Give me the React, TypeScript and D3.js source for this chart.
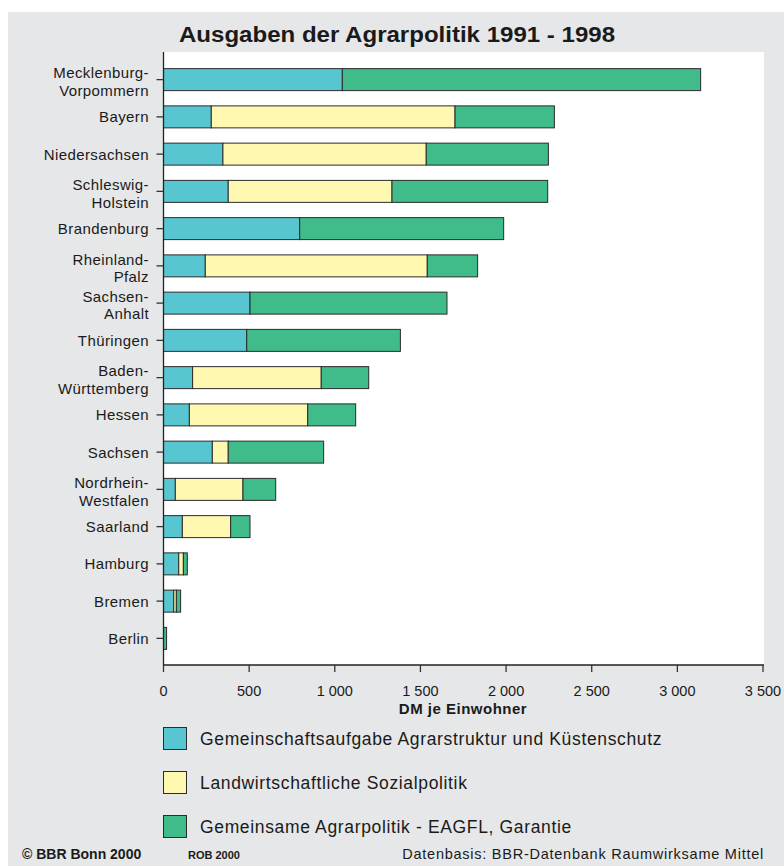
import React from "react";
import * as d3 from "d3";

const states = [
  "Mecklenburg-\nVorpommern",
  "Bayern",
  "Niedersachsen",
  "Schleswig-\nHolstein",
  "Brandenburg",
  "Rheinland-\nPfalz",
  "Sachsen-\nAnhalt",
  "Thüringen",
  "Baden-\nWürttemberg",
  "Hessen",
  "Sachsen",
  "Nordrhein-\nWestfalen",
  "Saarland",
  "Hamburg",
  "Bremen",
  "Berlin",
];
const gemeinschaft = [1044, 279, 347, 378, 795, 244, 505, 486, 170, 151, 285, 69, 110, 89, 60, 0];
const sozial = [0, 1423, 1187, 956, 0, 1296, 0, 0, 751, 691, 93, 395, 282, 27, 15, 0];
const eagfl = [2092, 580, 713, 909, 1191, 294, 1150, 897, 277, 280, 557, 191, 113, 23, 25, 18];
const seriesNames = [
  "Gemeinschaftsaufgabe Agrarstruktur und Küstenschutz",
  "Landwirtschaftliche Sozialpolitik",
  "Gemeinsame Agrarpolitik - EAGFL, Garantie",
];
const seriesKeys = ["g", "s", "e"];
const colors = ["#58c6d1", "#fff8b0", "#40bb8a"];
const xTicks = [0, 500, 1000, 1500, 2000, 2500, 3000, 3500];
const title = "Ausgaben der Agrarpolitik 1991 - 1998";
const xTitle = "DM je Einwohner";

const W = 784;
const H = 866;
const FONT = "'Liberation Sans', Arial, Helvetica, sans-serif";

export default function App() {
  const rows = states.map((s, i) => ({ state: s, g: gemeinschaft[i], s: sozial[i], e: eagfl[i] }));
  const stack = d3.stack<any>().keys(seriesKeys)(rows);
  const x = d3.scaleLinear().domain([0, 3500]).range([163.5, 763]);
  const y = d3.scaleBand<string>().domain(states).range([61, 657]).paddingInner(0.41).paddingOuter(0.205);
  const fmt = (v: number) => d3.format(",")(v).replace(/,/g, " ");
  const plotTop = 52;
  const plotBottom = 665;

  return (
    <svg width={W} height={H} style={{ position: "absolute", left: 0, top: 0, display: "block" }} fontFamily={FONT}>
      <rect x={0} y={0} width={W} height={H} fill="#ffffff" />
      <rect x={8} y={12} width={W - 8} height={H - 12} fill="#e6e7e8" />
      <text x={397} y={42} textAnchor="middle" fontSize={22} fontWeight="bold" fill="#1a1a1a" textLength={436} lengthAdjust="spacingAndGlyphs">
        {title}
      </text>
      <rect x={163} y={plotTop} width={601} height={plotBottom - plotTop} fill="#ffffff" />
      {stack.map((layer, li) => (
        <g key={li}>
          {layer.map((d, i) => {
            const w = x(d[1]) - x(d[0]);
            if (w <= 0) return null;
            return (
              <rect
                key={i}
                x={x(d[0])}
                y={y(states[i])}
                width={w}
                height={y.bandwidth()}
                fill={colors[li]}
                stroke="#2b2b2b"
                strokeWidth={1}
              />
            );
          })}
        </g>
      ))}
      {/* y axis */}
      <line x1={163.5} x2={163.5} y1={plotTop} y2={plotBottom} stroke="#222" strokeWidth={1.3} />
      {states.map((s, i) => {
        const cy = (y(s) as number) + y.bandwidth() / 2;
        const lines = s.split("\n");
        const shift = lines.length > 1 ? 2.5 : 0.5;
        return (
          <g key={s}>
            <line x1={156.5} x2={163.5} y1={cy} y2={cy} stroke="#333" strokeWidth={1.3} />
            {lines.map((ln, k) => (
              <text
                key={k}
                x={149}
                y={cy + 5 + shift + (k - (lines.length - 1) / 2) * 17.5}
                textAnchor="end"
                fontSize={15}
                letterSpacing={0.4}
                fill="#1a1a1a"
              >
                {ln}
              </text>
            ))}
          </g>
        );
      })}
      {/* x axis */}
      <line x1={163} x2={764} y1={plotBottom} y2={plotBottom} stroke="#222" strokeWidth={1.3} />
      {xTicks.map((t) => (
        <g key={t}>
          <line x1={x(t)} x2={x(t)} y1={plotBottom} y2={plotBottom + 7} stroke="#333" strokeWidth={1.3} />
          <text x={x(t)} y={696} textAnchor="middle" fontSize={14.5} fill="#1a1a1a">
            {fmt(t)}
          </text>
        </g>
      ))}
      <text x={463} y={714} textAnchor="middle" fontSize={15} letterSpacing={0.5} fontWeight="bold" fill="#1a1a1a">
        {xTitle}
      </text>
      {/* legend */}
      {seriesNames.map((n, i) => (
        <g key={n}>
          <rect x={163.5} y={727.5 + i * 44} width={23} height={22} fill={colors[i]} stroke="#2b2b2b" strokeWidth={1} />
          <text x={200} y={744.5 + i * 44} fontSize={17.5} letterSpacing={0.65} fill="#1a1a1a">
            {n}
          </text>
        </g>
      ))}
      {/* footer */}
      <text x={22} y={859} fontSize={14} fontWeight="bold" fill="#1a1a1a">
        © BBR Bonn 2000
      </text>
      <text x={188} y={859} fontSize={11} fontWeight="bold" fill="#1a1a1a">
        ROB 2000
      </text>
      <text x={764} y={859} textAnchor="end" fontSize={14.5} letterSpacing={0.75} fill="#1a1a1a">
        Datenbasis: BBR-Datenbank Raumwirksame Mittel
      </text>
    </svg>
  );
}
